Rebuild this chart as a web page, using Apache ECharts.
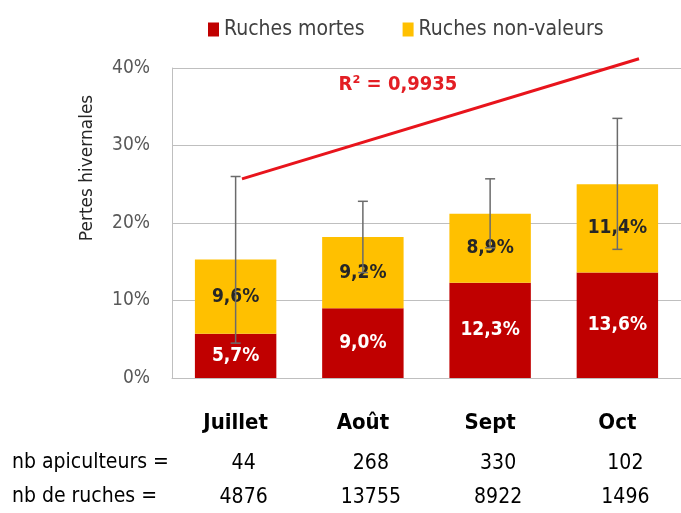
<!DOCTYPE html>
<html>
<head>
<meta charset="utf-8">
<script src="https://cdn.jsdelivr.net/npm/echarts@6/dist/echarts.min.js"></script>
<style>
  html, body { margin: 0; padding: 0; background: #fff; }
  #chart { width: 681px; height: 513px; }
</style>
</head>
<body>
<div id="chart"></div>
<script>
// données
var mois = ['Juillet', 'Août', 'Sept', 'Oct'];
var nbApiculteurs = ['44', '268', '330', '102'];
var nbRuches = ['4876', '13755', '8922', '1496'];
var ruchesMortes = [5.7, 9.0, 12.3, 13.6];
var ruchesNonValeurs = [9.6, 9.2, 8.9, 11.4];
var erreurBas = [4.5, 13.6, 16.8, 16.6];
var erreurHaut = [26.0, 22.8, 25.7, 33.5];
var tendance = [[0.05, 25.7], [3.17, 41.2]];
var yTicks = [0, 10, 20, 30, 40];

var NARROW = "'Liberation Sans Narrow', 'DejaVu Sans Condensed', 'Open Sans', sans-serif";

function pct(v) {
    return String(v.toFixed(1)).replace('.', ',') + '%';
}

var errData = mois.map(function (m, i) { return [i, erreurBas[i], erreurHaut[i]]; });

var option = {
    animation: false,
    backgroundColor: '#fff',
    textStyle: { fontFamily: NARROW },
    legend: {
        left: 203, top: 14,
        itemWidth: 11, itemHeight: 14, itemGap: 38, itemTextGap: 4,
        icon: 'rect',
        textStyle: { fontSize: 21, color: '#404040', fontFamily: NARROW },
        data: ['Ruches mortes', 'Ruches non-valeurs']
    },
    grid: { left: 172, right: -5, top: 68, bottom: 135, containLabel: false },
    xAxis: [
        {
            type: 'category', data: mois, position: 'bottom',
            axisLine: { lineStyle: { color: '#bfbfbf' } }, axisTick: { show: false },
            axisLabel: { margin: 34, fontSize: 22, fontWeight: 'bold', color: '#000', fontFamily: NARROW }
        },
        {
            type: 'category', data: nbApiculteurs, position: 'bottom',
            axisLine: { show: false }, axisTick: { show: false },
            axisLabel: { margin: 75, fontSize: 21, color: '#000', fontFamily: NARROW, padding: [0, 0, 0, 16] }
        },
        {
            type: 'category', data: nbRuches, position: 'bottom',
            axisLine: { show: false }, axisTick: { show: false },
            axisLabel: { margin: 109, fontSize: 21, color: '#000', fontFamily: NARROW, padding: [0, 0, 0, 16] }
        },
        {
            type: 'value', min: -0.5, max: 3.5, show: false
        }
    ],
    yAxis: {
        type: 'value', min: yTicks[0], max: yTicks[yTicks.length - 1], interval: 10,
        axisLine: { show: true, onZero: false, lineStyle: { color: '#bfbfbf' } },
        axisTick: { show: false },
        splitLine: { lineStyle: { color: '#bfbfbf', width: 1 } },
        axisLabel: { formatter: '{value}%', fontSize: 19, color: '#595959', margin: 22, fontFamily: NARROW }
    },
    graphic: [
        {
            type: 'text', x: 88, y: 168, rotation: Math.PI / 2,
            style: { text: 'Pertes hivernales', fontSize: 17, fill: '#262626', align: 'center', verticalAlign: 'middle', fontFamily: "'DejaVu Sans', sans-serif" }
        },
        {
            type: 'text', x: 398, y: 85,
            style: { text: 'R² = 0,9935', fontSize: 20, fontWeight: 'bold', fill: '#e31e24', align: 'center', verticalAlign: 'middle', fontFamily: NARROW }
        },
        {
            type: 'text', x: 12, y: 463,
            style: { text: 'nb apiculteurs =', fontSize: 21, fill: '#000', verticalAlign: 'middle', fontFamily: NARROW }
        },
        {
            type: 'text', x: 12, y: 497,
            style: { text: 'nb de ruches =', fontSize: 21, fill: '#000', verticalAlign: 'middle', fontFamily: NARROW }
        }
    ],
    series: [
        {
            name: 'Ruches mortes', type: 'bar', stack: 'p', barWidth: '64%',
            xAxisIndex: 0,
            itemStyle: { color: '#c00000' },
            label: {
                show: true, position: 'inside', color: '#fff', fontSize: 19, fontWeight: 'bold', fontFamily: NARROW,
                formatter: function (p) { return pct(p.value); }
            },
            data: ruchesMortes
        },
        {
            name: 'Ruches non-valeurs', type: 'bar', stack: 'p',
            xAxisIndex: 0,
            itemStyle: { color: '#ffc000' },
            label: {
                show: true, position: 'inside', color: '#262626', fontSize: 19, fontWeight: 'bold', fontFamily: NARROW,
                formatter: function (p) { return pct(p.value); }
            },
            data: ruchesNonValeurs
        },
        {
            name: 'erreur', type: 'custom', xAxisIndex: 0, z: 5,
            renderItem: function (params, api) {
                var hi = api.coord([api.value(0), api.value(2)]);
                var lo = api.coord([api.value(0), api.value(1)]);
                var w = 5;
                var st = { stroke: '#6b6b6b', lineWidth: 1.5 };
                return {
                    type: 'group',
                    children: [
                        { type: 'line', shape: { x1: hi[0], y1: hi[1], x2: lo[0], y2: lo[1] }, style: st },
                        { type: 'line', shape: { x1: hi[0] - w, y1: hi[1], x2: hi[0] + w, y2: hi[1] }, style: st },
                        { type: 'line', shape: { x1: lo[0] - w, y1: lo[1], x2: lo[0] + w, y2: lo[1] }, style: st }
                    ]
                };
            },
            data: errData
        },
        {
            name: 'tendance', type: 'line', xAxisIndex: 3, clip: false, z: 6,
            symbol: 'none', lineStyle: { color: '#e8141c', width: 3 },
            data: tendance
        }
    ]
};

var chart = echarts.init(document.getElementById('chart'));
chart.setOption(option);
</script>
</body>
</html>
